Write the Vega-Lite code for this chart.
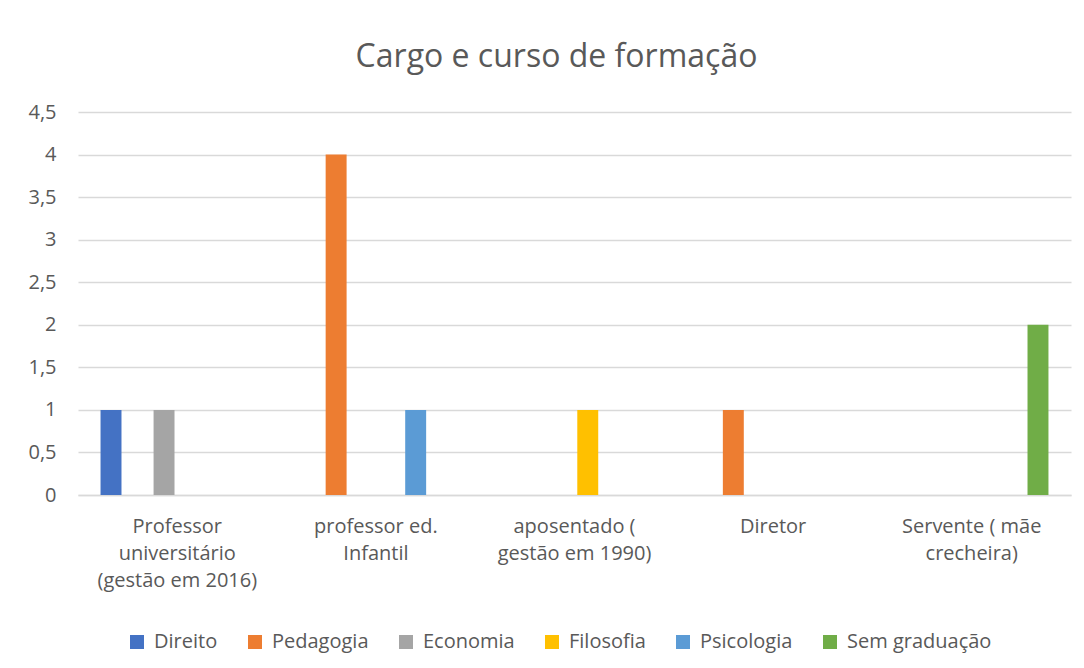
{
  "$schema": "https://vega.github.io/schema/vega-lite/v6.json",
  "autosize": {"type": "none"},
  "padding": {"left": 78, "top": 112, "right": 13, "bottom": 173},
  "width": 993,
  "height": 383,
  "background": "white",
  "title": {
    "text": "Cargo e curso de formação",
    "font": "Open Sans",
    "fontSize": 32,
    "fontWeight": "normal",
    "color": "#595959",
    "anchor": "middle",
    "dx": -18,
    "baseline": "alphabetic",
    "offset": 3
  },
  "data": {
    "values": [
      {"cargo": "Professor universitário (gestão em 2016)", "curso": "Direito", "n": 1},
      {"cargo": "Professor universitário (gestão em 2016)", "curso": "Economia", "n": 1},
      {"cargo": "professor ed. Infantil", "curso": "Pedagogia", "n": 4},
      {"cargo": "professor ed. Infantil", "curso": "Psicologia", "n": 1},
      {"cargo": "aposentado ( gestão em 1990)", "curso": "Filosofia", "n": 1},
      {"cargo": "Diretor", "curso": "Pedagogia", "n": 1},
      {"cargo": "Servente ( mãe crecheira)", "curso": "Sem graduação", "n": 2}
    ]
  },
  "mark": {"type": "bar"},
  "encoding": {
    "x": {
      "field": "cargo",
      "type": "nominal",
      "sort": ["Professor universitário (gestão em 2016)", "professor ed. Infantil", "aposentado ( gestão em 1990)", "Diretor", "Servente ( mãe crecheira)"],
      "scale": {"paddingInner": 0, "paddingOuter": 0},
      "axis": {
        "title": null,
        "labelAngle": 0,
        "ticks": false,
        "domainColor": "#d9d9d9",
        "domainWidth": 1.5,
        "labelFont": "Open Sans",
        "labelFontSize": 20,
        "labelColor": "#595959",
        "labelPadding": 21,
        "labelLineHeight": 27,
        "labelLimit": 300,
        "labelExpr": "datum.label == 'Professor universitário (gestão em 2016)' ? ['Professor', 'universitário', '(gestão em 2016)'] : datum.label == 'professor ed. Infantil' ? ['professor ed.', 'Infantil'] : datum.label == 'aposentado ( gestão em 1990)' ? ['aposentado (', 'gestão em 1990)'] : datum.label == 'Servente ( mãe crecheira)' ? ['Servente ( mãe', 'crecheira)'] : datum.label"
      }
    },
    "xOffset": {
      "field": "curso",
      "type": "nominal",
      "scale": {"domain": ["Direito", "Pedagogia", "Economia", "Filosofia", "Psicologia", "Sem graduação"], "paddingInner": 0.21, "paddingOuter": 0.85}
    },
    "y": {
      "field": "n",
      "type": "quantitative",
      "scale": {"domain": [0, 4.5], "nice": false},
      "axis": {
        "title": null,
        "values": [0, 0.5, 1, 1.5, 2, 2.5, 3, 3.5, 4, 4.5],
        "labelExpr": "replace(format(datum.value, ''), '.', ',')",
        "domain": false,
        "ticks": false,
        "gridColor": "#d9d9d9",
        "gridWidth": 1.5,
        "labelFont": "Open Sans",
        "labelFontSize": 20,
        "labelColor": "#595959",
        "labelPadding": 22
      }
    },
    "color": {
      "field": "curso",
      "type": "nominal",
      "scale": {
        "domain": ["Direito", "Pedagogia", "Economia", "Filosofia", "Psicologia", "Sem graduação"],
        "range": ["#4472C4", "#ED7D31", "#A5A5A5", "#FFC000", "#5B9BD5", "#70AD47"]
      },
      "legend": {
        "title": null,
        "orient": "none",
        "direction": "horizontal",
        "legendX": 49,
        "legendY": 520,
        "symbolType": "square",
        "symbolSize": 196,
        "symbolStrokeWidth": 0,
        "symbolOpacity": 1,
        "labelFont": "Open Sans",
        "labelFontSize": 20,
        "labelColor": "#595959",
        "labelOffset": 7,
        "columnPadding": 27,
        "labelLimit": 300
      }
    }
  },
  "config": {"view": {"stroke": null}}
}
